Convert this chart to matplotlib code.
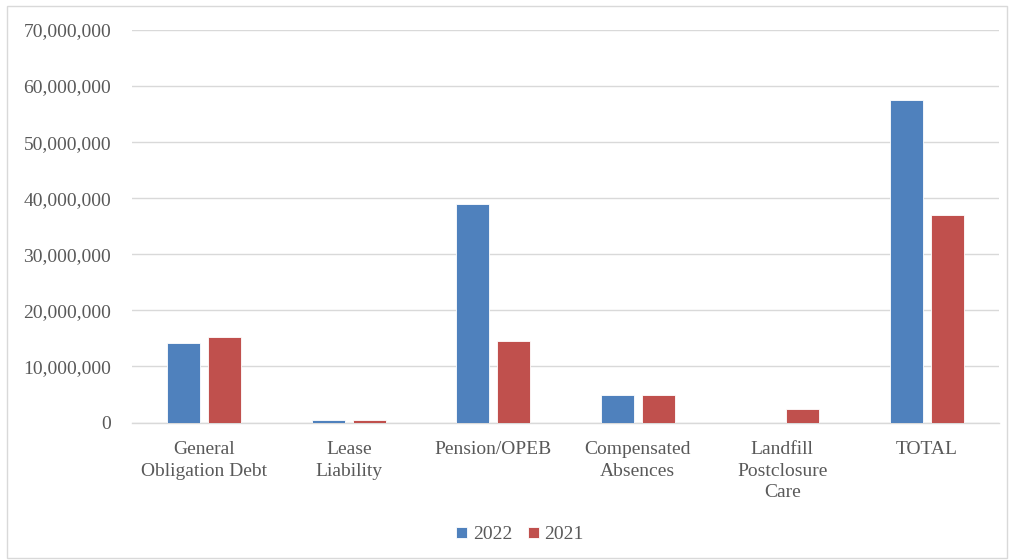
import matplotlib
matplotlib.use("Agg")
import matplotlib.pyplot as plt
import numpy as np
from matplotlib.patches import Rectangle
from matplotlib.ticker import FuncFormatter, MultipleLocator

categories = ["General\nObligation Debt", "Lease\nLiability", "Pension/OPEB",
              "Compensated\nAbsences", "Landfill\nPostclosure\nCare", "TOTAL"]
series_names = ["2022", "2021"]
values_2022 = [14_100_000, 450_000, 38_900_000, 4_950_000, 0, 57_500_000]
values_2021 = [15_300_000, 430_000, 14_450_000, 4_950_000, 2_500_000, 37_000_000]

colors = ["#4F81BD", "#C0504D"]
text_color = "#595959"
grid_color = "#D9D9D9"

plt.rcParams["font.family"] = ["Liberation Serif", "DejaVu Serif"]

fig = plt.figure(figsize=(10.1, 5.6), dpi=100)
ax = fig.add_axes([0.1307, 0.2455, 0.989 - 0.1307, 0.9464 - 0.2455])

# figure frame
fig.patches.append(Rectangle((0.007, 0.003), 0.99, 0.986, transform=fig.transFigure,
                             fill=False, edgecolor="#D9D9D9", linewidth=1.0))

x = np.arange(len(categories))
width = 0.228
offset = 0.142
for vals, name, col, sgn in [(values_2022, series_names[0], colors[0], -1),
                             (values_2021, series_names[1], colors[1], 1)]:
    ax.bar(x + sgn * offset, vals, width=width, color=col, label=name,
           edgecolor="white", linewidth=0.6, zorder=3)

ax.set_xlim(-0.5, len(categories) - 0.5)
ax.set_ylim(0, 70_000_000)
ax.yaxis.set_major_locator(MultipleLocator(10_000_000))
ax.yaxis.set_major_formatter(FuncFormatter(lambda v, p: f"{int(v):,}"))
ax.grid(axis="y", color=grid_color, linewidth=1.0, zorder=0)
ax.set_axisbelow(True)

for s in ["top", "right", "left"]:
    ax.spines[s].set_visible(False)
ax.spines["bottom"].set_color(grid_color)
ax.spines["bottom"].set_linewidth(1.0)

ax.set_xticks(x)
ax.set_xticklabels(categories, linespacing=1.38)
ax.tick_params(axis="x", length=0, pad=13, labelsize=14, labelcolor=text_color)
ax.tick_params(axis="y", length=0, pad=15, labelsize=14, labelcolor=text_color)

leg = fig.legend(loc="center", bbox_to_anchor=(0.515, 0.045), ncol=2, frameon=False,
                 fontsize=14, handlelength=0.55, handleheight=0.55, handletextpad=0.3,
                 columnspacing=0.8, labelcolor=text_color)

fig.savefig("out.png", dpi=100)
